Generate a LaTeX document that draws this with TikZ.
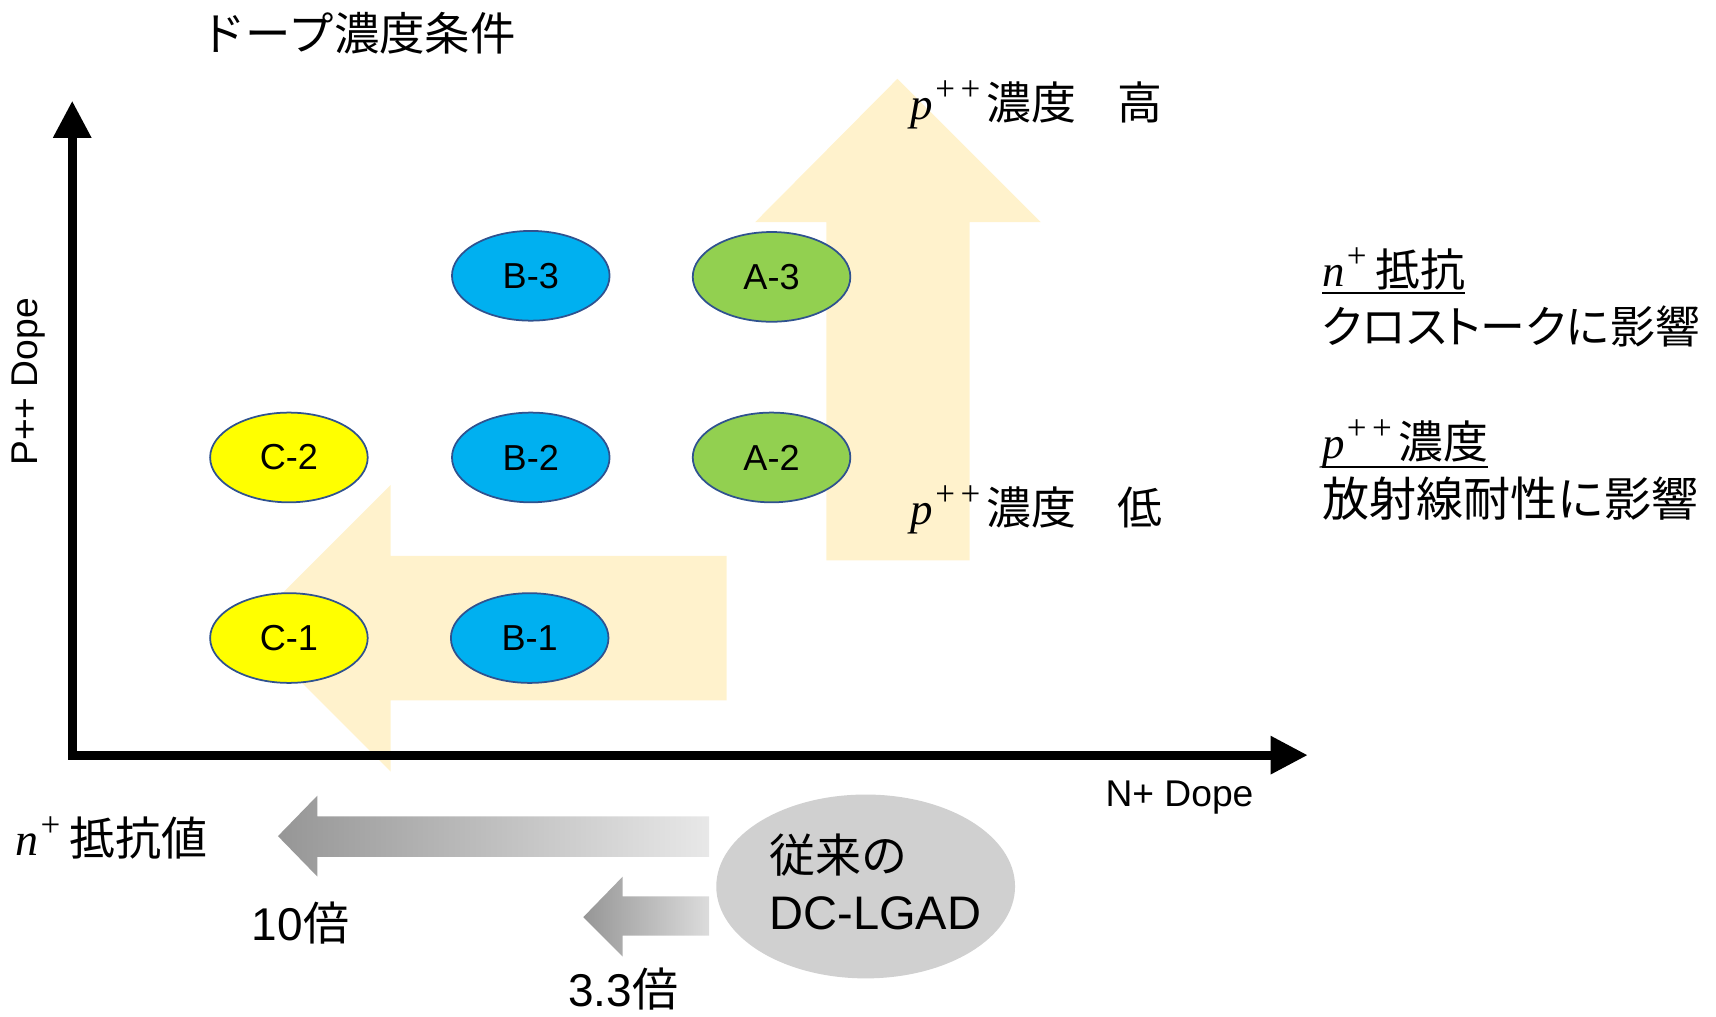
\documentclass[tikz,border=0pt]{standalone}
\usepackage{fontspec}
\setmainfont{Liberation Sans}
\newfontfamily\jp{Noto Sans CJK JP}
\newfontfamily\jpp{Noto Sans CJK JP}[RawFeature=+palt]
\newfontfamily\srf{Liberation Serif}
\newcommand\ivar[1]{{\srf\itshape #1}}
\newcommand\supp[1]{\kern2pt\raisebox{0.42em}{\srf\fontsize{32}{34}\selectfont #1}}
\newcommand\pplus{\ivar{p}\supp{+\kern5pt+}\kern6pt}
\newcommand\nplus{\ivar{n}\supp{+}\kern8pt}
\usetikzlibrary{shapes.geometric,arrows.meta}
\definecolor{lorange}{HTML}{FFF2CC}
\definecolor{devblue}{HTML}{00B0F0}
\definecolor{devgreen}{HTML}{92D050}
\definecolor{devyellow}{HTML}{FFFF00}
\definecolor{edgeblue}{HTML}{2F528F}
\definecolor{dcgray}{HTML}{D0D0D0}
\definecolor{gdark}{HTML}{969696}
\definecolor{glight}{HTML}{E8E8E8}
\definecolor{glight2}{HTML}{DCDCDC}
\tikzset{
  dev/.style={ellipse, draw=edgeblue, line width=1.6pt, minimum width=144pt,
    minimum height=82pt, inner sep=0pt, font=\fontsize{33}{38}\selectfont},
  big/.style={inner sep=0pt, font=\fontsize{42}{48}\selectfont},
  note/.style={inner sep=0pt, anchor=base west, font=\fontsize{41}{48}\selectfont},
  axlab/.style={inner sep=0pt, font=\fontsize{34}{40}\selectfont},
  axis/.style={line width=8pt, line join=miter,
    {Triangle[length=34pt,width=33pt]}-{Triangle[length=34pt,width=33pt]}},
  blockarrow/.style={fill=lorange, draw=none},
  uline/.style={line width=2pt}
}
\begin{document}
\begin{tikzpicture}[x=1pt,y=-1pt]
\useasboundingbox (0,0) rectangle (1568,929);

% light orange block arrows
\fill[blockarrow] (755,512) -- (755,203) -- (690,203) -- (820,72) -- (951,203) -- (886,203) -- (886,512) -- cycle;
\fill[blockarrow] (664,508) -- (357,508) -- (357,443) -- (226,574) -- (357,705) -- (357,640) -- (664,640) -- cycle;

% axes
\coordinate (ytip) at (66,92);
\coordinate (orig) at (66,690);
\coordinate (xtip) at (1195,690);
\draw[axis] (ytip) -- (orig) -- (xtip);

% title and axis labels
\node[inner sep=0pt, anchor=base west, font=\jp\fontsize{41.5}{48}\selectfont] (title) at (183,46) {ドープ濃度条件};
\node[axlab, rotate=90] (ylab) at (26,349) {P++ Dope};
\node[axlab, anchor=base west] (xlab) at (1010,737) {N+ Dope};

% devices
\node[dev, fill=devblue] (B3) at (485,252) {B-3};
\node[dev, fill=devgreen] (A3) at (705,253) {A-3};
\node[dev, fill=devyellow] (C2) at (264,418) {C-2};
\node[dev, fill=devblue] (B2) at (485,418) {B-2};
\node[dev, fill=devgreen] (A2) at (705,418) {A-2};
\node[dev, fill=devyellow] (C1) at (264,583) {C-1};
\node[dev, fill=devblue] (B1) at (484,583) {B-1};

% p++ labels
\node[note] (phigh) at (832,109) {\pplus{\jp 濃度}\kern37pt{\jp 高}};
\node[note] (plow) at (832,479) {\pplus{\jp 濃度}\kern37pt{\jp 低}};

% right notes
\node[note] (nres) at (1208,262) {\nplus{\jp 抵抗}};
\draw[uline] ([yshift=-6pt]nres.base west) -- ([yshift=-6pt]nres.base east);
\node[note] (ncross) at (1208,314) {{\jpp クロストーク}{\jp に影響}};
\node[note] (pconc) at (1208,419) {\pplus{\jp 濃度}};
\draw[uline] ([yshift=-8pt]pconc.base west) -- ([yshift=-8pt]pconc.base east);
\node[note, font=\fontsize{43}{48}\selectfont] (prad) at (1208,472) {{\jp 放射線耐性に影響}};

% bottom: gradient arrows
\shade[left color=gdark, right color=glight] (254,764) -- (290,727) -- (290,746) -- (648,746) -- (648,783) -- (290,783) -- (290,801) -- cycle;
\shade[left color=gdark, right color=glight2] (533,838) -- (569,801) -- (569,819) -- (648,819) -- (648,855) -- (569,855) -- (569,874) -- cycle;

\node[ellipse, fill=dcgray, minimum width=273pt, minimum height=168pt, inner sep=0pt] (dc) at (791,810) {};
\node[inner sep=0pt, anchor=base west, font=\jp\fontsize{42}{48}\selectfont] (dc1) at (703,797) {従来の};
\node[inner sep=0pt, anchor=base west, font=\fontsize{43}{48}\selectfont] (dc2) at (703,849) {DC-LGAD};

\node[big, anchor=base west] (nval) at (14,782) {\nplus{\jp 抵抗値}};
\node[big, anchor=base west] (ten) at (230,859) {10{\jp 倍}};
\node[big, anchor=base west] (three) at (519,920) {3.3{\jp 倍}};
\end{tikzpicture}
\end{document}
